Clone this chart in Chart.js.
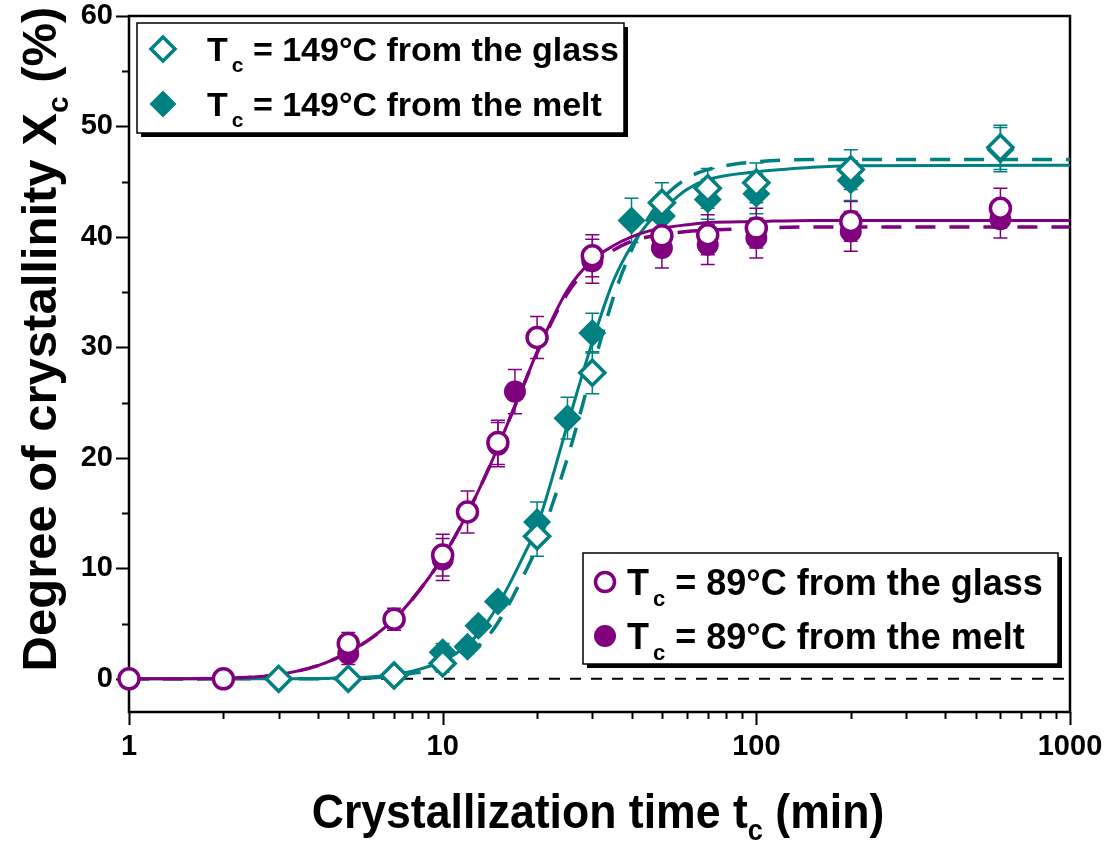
<!DOCTYPE html>
<html>
<head>
<meta charset="utf-8">
<title>Degree of crystallinity vs crystallization time</title>
<script src="https://cdn.jsdelivr.net/npm/chart.js@4/dist/chart.umd.min.js"></script>
<style>
  html, body { margin: 0; padding: 0; background: #fff; }
  #wrap { width: 1104px; height: 842px; }
</style>
</head>
<body>
<div id="wrap"><canvas id="chart" width="1104" height="842"></canvas></div>
<script>
const TEAL = '#008080';
const PURPLE = '#800080';
const FONT = "'Liberation Sans', Arial, Helvetica, sans-serif";

// Tc = 89 °C, crystallized from the glass (open circles)
const tGlass89   = [1, 2, 5, 7, 10, 12, 15, 20, 30, 50, 70, 100, 200, 600];
const xcGlass89  = [0, 0, 3.2, 5.4, 11.2, 15.1, 21.4, 30.9, 38.3, 40.1, 40.2, 40.8, 41.4, 42.6];
const errGlass89 = [0, 0, 1.0, 1.0, 1.9, 1.9, 2.0, 1.9, 1.9, 1.8, 1.8, 1.8, 1.8, 1.8];

// Tc = 89 °C, crystallized from the melt (filled circles)
const tMelt89    = [5, 10, 15, 17, 30, 50, 70, 100, 200, 600];
const xcMelt89   = [2.3, 10.8, 21.2, 26.0, 37.8, 39.0, 39.3, 39.9, 40.5, 41.6];
const errMelt89  = [1.0, 1.9, 2.0, 2.0, 2.0, 1.8, 1.8, 1.8, 1.8, 1.7];

// Tc = 149 °C, crystallized from the glass (open diamonds)
const tGlass149   = [3, 5, 7, 10, 20, 30, 50, 70, 100, 200, 600];
const xcGlass149  = [0, 0, 0.3, 1.4, 12.9, 27.7, 43.1, 44.4, 44.9, 46.1, 48.1];
const errGlass149 = [0, 0, 0, 0.8, 1.8, 1.9, 1.8, 1.8, 1.8, 1.8, 2.0];

// Tc = 149 °C, crystallized from the melt (filled diamonds)
const tMelt149   = [10, 12, 13, 15, 20, 25, 30, 40, 50, 70, 100, 200, 600];
const xcMelt149  = [2.4, 2.9, 4.8, 7.0, 14.2, 23.6, 31.3, 41.5, 41.9, 43.4, 43.9, 45.1, 47.9];
const errMelt149 = [0.8, 0.6, 0.6, 0.6, 1.8, 1.9, 1.8, 2.0, 1.8, 1.8, 1.8, 1.8, 2.0];

// Fitted curves, sampled along the time axis
const tFit = [1, 2, 3, 4, 5, 6, 7, 8, 10, 12, 14, 16, 18, 20, 25, 30, 35, 40, 45, 50, 60, 70, 100, 150, 200, 1000];
const fitGlass89  = [0, 0.05, 0.4, 1.2, 2.4, 3.8, 5.4, 7.2, 11.0, 15.0, 19.0, 22.9, 26.4, 29.6, 35.2, 37.9, 39.2, 40.0, 40.5, 40.8, 41.1, 41.3, 41.4, 41.5, 41.5, 41.5];
const fitMelt89   = [0, 0.05, 0.4, 1.2, 2.4, 3.8, 5.4, 7.2, 11.0, 15.0, 19.0, 22.9, 26.4, 29.5, 34.9, 37.5, 38.8, 39.6, 40.0, 40.2, 40.5, 40.6, 40.8, 40.9, 40.9, 40.9];
const fitGlass149 = [0, 0, 0, 0.02, 0.1, 0.2, 0.4, 0.7, 1.6, 3.1, 5.3, 8.1, 11.0, 13.8, 23.0, 30.5, 36.0, 39.2, 41.2, 42.4, 44.3, 45.2, 45.9, 46.3, 46.45, 46.5];
const fitMelt149  = [0, 0, 0, 0.01, 0.05, 0.1, 0.25, 0.5, 1.0, 2.2, 3.9, 6.4, 9.2, 12.0, 20.0, 28.0, 34.5, 38.8, 41.6, 43.4, 45.3, 46.1, 46.8, 47.0, 47.0, 47.0];
const tBase = [1, 1000];
const xcBase = [0, 0];

// Axis ticks
const xTickValues = [1, 10, 100, 1000];
const yTickValues = [0, 10, 20, 30, 40, 50, 60];

// Legend entries
const legendUpper = [
  { text: '= 149°C from the glass', marker: 'diamondOpen' },
  { text: '= 149°C from the melt',  marker: 'diamondFilled' }
];
const legendLower = [
  { text: '= 89°C from the glass', marker: 'circleOpen' },
  { text: '= 89°C from the melt',  marker: 'circleFilled' }
];

function pts(ts, vs) { return ts.map((t, i) => ({ x: t, y: vs[i] })); }

function markerSet(ts, vs, style, radius, fill, color, width, order) {
  return {
    data: pts(ts, vs), showLine: false, pointStyle: style,
    pointRadius: radius, pointHoverRadius: radius,
    pointBackgroundColor: fill, pointBorderColor: color, pointBorderWidth: width,
    clip: false, order: order
  };
}
function curveSet(ts, vs, color, width, dash, order) {
  return {
    data: pts(ts, vs), showLine: true, pointRadius: 0, pointHoverRadius: 0,
    borderColor: color, borderWidth: width, borderDash: dash,
    cubicInterpolationMode: 'monotone', fill: false, order: order
  };
}

const errorSeries = [
  { t: tMelt149, v: xcMelt149, e: errMelt149, color: TEAL },
  { t: tMelt89, v: xcMelt89, e: errMelt89, color: PURPLE },
  { t: tGlass149, v: xcGlass149, e: errGlass149, color: TEAL },
  { t: tGlass89, v: xcGlass89, e: errGlass89, color: PURPLE }
];

function drawMarker(ctx, kind, x, y) {
  ctx.save();
  ctx.beginPath();
  if (kind.startsWith('diamond')) {
    const r = kind === 'diamondOpen' ? 12 : 13.5;
    ctx.moveTo(x - r, y); ctx.lineTo(x, y - r); ctx.lineTo(x + r, y); ctx.lineTo(x, y + r); ctx.closePath();
    if (kind === 'diamondOpen') { ctx.fillStyle = '#fff'; ctx.fill(); ctx.lineWidth = 3.5; ctx.strokeStyle = TEAL; ctx.stroke(); }
    else { ctx.fillStyle = TEAL; ctx.fill(); }
  } else {
    const r = kind === 'circleOpen' ? 9.5 : 11;
    ctx.arc(x, y, r, 0, Math.PI * 2);
    if (kind === 'circleOpen') { ctx.fillStyle = '#fff'; ctx.fill(); ctx.lineWidth = 3.5; ctx.strokeStyle = PURPLE; ctx.stroke(); }
    else { ctx.fillStyle = PURPLE; ctx.fill(); }
  }
  ctx.restore();
}

// "T" with subscript "c", followed by the rest of the label
function drawTcLabel(ctx, x, y, rest, size) {
  ctx.fillStyle = '#000';
  ctx.textBaseline = 'alphabetic';
  ctx.textAlign = 'left';
  ctx.font = 'bold ' + size + 'px ' + FONT;
  ctx.fillText('T', x, y);
  const wT = ctx.measureText('T').width;
  const sub = Math.round(size * 0.62);
  ctx.font = 'bold ' + sub + 'px ' + FONT;
  ctx.fillText('c', x + wT + 4, y + size * 0.32);
  const wc = ctx.measureText('c').width;
  ctx.font = 'bold ' + size + 'px ' + FONT;
  ctx.fillText(' ' + rest, x + wT + 4 + wc, y);
}

function legendBox(ctx, box, entries, size) {
  ctx.save();
  ctx.fillStyle = '#000';
  ctx.fillRect(box.x + 4, box.y + 4, box.w, box.h);
  ctx.fillStyle = '#fff';
  ctx.fillRect(box.x, box.y, box.w, box.h);
  ctx.lineWidth = 1.5;
  ctx.strokeStyle = '#000';
  ctx.strokeRect(box.x, box.y, box.w, box.h);
  entries.forEach((en, i) => {
    const cy = box.y + box.rowTop + i * box.rowGap;
    drawMarker(ctx, en.marker, box.x + box.markerX, cy);
    drawTcLabel(ctx, box.x + box.textX, cy + size * 0.36, en.text, size);
  });
  ctx.restore();
}

const deco = {
  id: 'deco',
  beforeDatasetsDraw(chart) {
    const ctx = chart.ctx;
    const a = chart.chartArea;
    const xs = chart.scales.x, ys = chart.scales.y;
    ctx.save();
    // error bars
    ctx.lineWidth = 1.5;
    errorSeries.forEach(s => {
      ctx.strokeStyle = s.color;
      s.t.forEach((t, i) => {
        const e = s.e[i];
        if (!e) return;
        const px = xs.getPixelForValue(t);
        const p1 = ys.getPixelForValue(s.v[i] + e);
        const p2 = ys.getPixelForValue(s.v[i] - e);
        ctx.beginPath();
        ctx.moveTo(px, p1); ctx.lineTo(px, p2);
        ctx.moveTo(px - 7, p1); ctx.lineTo(px + 7, p1);
        ctx.moveTo(px - 7, p2); ctx.lineTo(px + 7, p2);
        ctx.stroke();
      });
    });
    // frame
    ctx.strokeStyle = '#000';
    ctx.lineWidth = 2.5;
    ctx.strokeRect(a.left, a.top, a.right - a.left, a.bottom - a.top);
    // y ticks (outside, left)
    ctx.lineWidth = 2;
    ctx.beginPath();
    for (let v = 0; v <= 60; v += 5) {
      const py = Math.round(ys.getPixelForValue(v)) + 0.5;
      const len = v % 10 === 0 ? 13 : 7;
      ctx.moveTo(a.left - len, py); ctx.lineTo(a.left, py);
    }
    // x ticks (outside, below)
    for (let d = 1; d <= 1000; d *= 10) {
      const last = d === 1000 ? 1 : 9;
      for (let m = 1; m <= last; m++) {
        const px = Math.round(xs.getPixelForValue(d * m)) + 0.5;
        const len = m === 1 ? 13 : 7;
        ctx.moveTo(px, a.bottom); ctx.lineTo(px, a.bottom + len);
      }
    }
    ctx.stroke();
    ctx.restore();
  },
  afterDraw(chart) {
    const ctx = chart.ctx;
    ctx.save();
    legendBox(ctx, { x: 137, y: 23, w: 487, h: 110, markerX: 26, textX: 70, rowTop: 26, rowGap: 55 }, legendUpper, 34);
    legendBox(ctx, { x: 583, y: 553, w: 475, h: 111, markerX: 22, textX: 44, rowTop: 29, rowGap: 54 }, legendLower, 36);

    // y axis title
    ctx.save();
    ctx.translate(56, 339);
    ctx.rotate(-Math.PI / 2);
    ctx.fillStyle = '#000';
    ctx.textBaseline = 'alphabetic';
    ctx.textAlign = 'left';
    const big = 'bold 49px ' + FONT, small = 'bold 30px ' + FONT;
    ctx.font = big;
    const p1 = 'Degree of crystallinity X', p3 = ' (%)';
    const w1 = ctx.measureText(p1).width, w3 = ctx.measureText(p3).width;
    ctx.font = small;
    const w2 = ctx.measureText('c').width;
    let x0 = -(w1 + w2 + w3) / 2;
    ctx.font = big; ctx.fillText(p1, x0, 0);
    ctx.font = small; ctx.fillText('c', x0 + w1, 12);
    ctx.font = big; ctx.fillText(p3, x0 + w1 + w2, 0);
    ctx.restore();

    // x axis title
    ctx.save();
    ctx.translate(598, 828);
    ctx.scale(0.91, 1);
    ctx.fillStyle = '#000';
    ctx.textBaseline = 'alphabetic';
    ctx.textAlign = 'left';
    const xb = 'bold 49px ' + FONT, xsml = 'bold 30px ' + FONT;
    ctx.font = xb;
    const q1 = 'Crystallization time t', q3 = ' (min)';
    const v1 = ctx.measureText(q1).width, v3 = ctx.measureText(q3).width;
    ctx.font = xsml;
    const v2 = ctx.measureText('c').width;
    let xx = -(v1 + v2 + v3) / 2;
    ctx.font = xb; ctx.fillText(q1, xx, 0);
    ctx.font = xsml; ctx.fillText('c', xx + v1, 12);
    ctx.font = xb; ctx.fillText(q3, xx + v1 + v2, 0);
    ctx.restore();

    ctx.restore();
  }
};

new Chart(document.getElementById('chart'), {
  type: 'scatter',
  data: {
    datasets: [
      markerSet(tGlass89, xcGlass89, 'circle', 10, '#fff', PURPLE, 3.5, 1),
      markerSet(tGlass149, xcGlass149, 'rectRot', 12.5, '#fff', TEAL, 3.5, 2),
      markerSet(tMelt89, xcMelt89, 'circle', 11, PURPLE, PURPLE, 0, 3),
      markerSet(tMelt149, xcMelt149, 'rectRot', 14, TEAL, TEAL, 0, 4),
      curveSet(tFit, fitGlass89, PURPLE, 3, [], 5),
      curveSet(tFit, fitGlass149, TEAL, 3, [], 6),
      curveSet(tFit, fitMelt89, PURPLE, 3.5, [20, 14], 7),
      curveSet(tFit, fitMelt149, TEAL, 3.5, [20, 14], 8),
      curveSet(tBase, xcBase, '#000', 2, [11, 10], 9)
    ]
  },
  options: {
    responsive: false,
    animation: false,
    devicePixelRatio: 1,
    events: [],
    layout: { padding: { top: 15, right: 34, left: 0, bottom: 0 } },
    plugins: { legend: { display: false }, tooltip: { enabled: false } },
    scales: {
      x: {
        type: 'logarithmic', min: 1, max: 1000,
        grid: { display: false }, border: { display: false },
        ticks: {
          color: '#000', padding: 10, maxRotation: 0, autoSkip: false,
          font: { family: FONT, size: 29, weight: 'bold' },
          callback: v => String(v)
        },
        afterBuildTicks: s => { s.ticks = xTickValues.map(v => ({ value: v })); },
        afterFit: s => { s.height = 130; s.paddingLeft = 0; s.paddingRight = 0; }
      },
      y: {
        type: 'linear', min: -3, max: 60,
        grid: { display: false }, border: { display: false },
        ticks: {
          color: '#000', padding: 8,
          font: { family: FONT, size: 29, weight: 'bold' },
          callback: v => String(v)
        },
        afterBuildTicks: s => { s.ticks = yTickValues.map(v => ({ value: v })); },
        afterFit: s => { s.width = 129; s.paddingTop = 0; s.paddingBottom = 0; }
      }
    }
  },
  plugins: [deco]
});
</script>
</body>
</html>
